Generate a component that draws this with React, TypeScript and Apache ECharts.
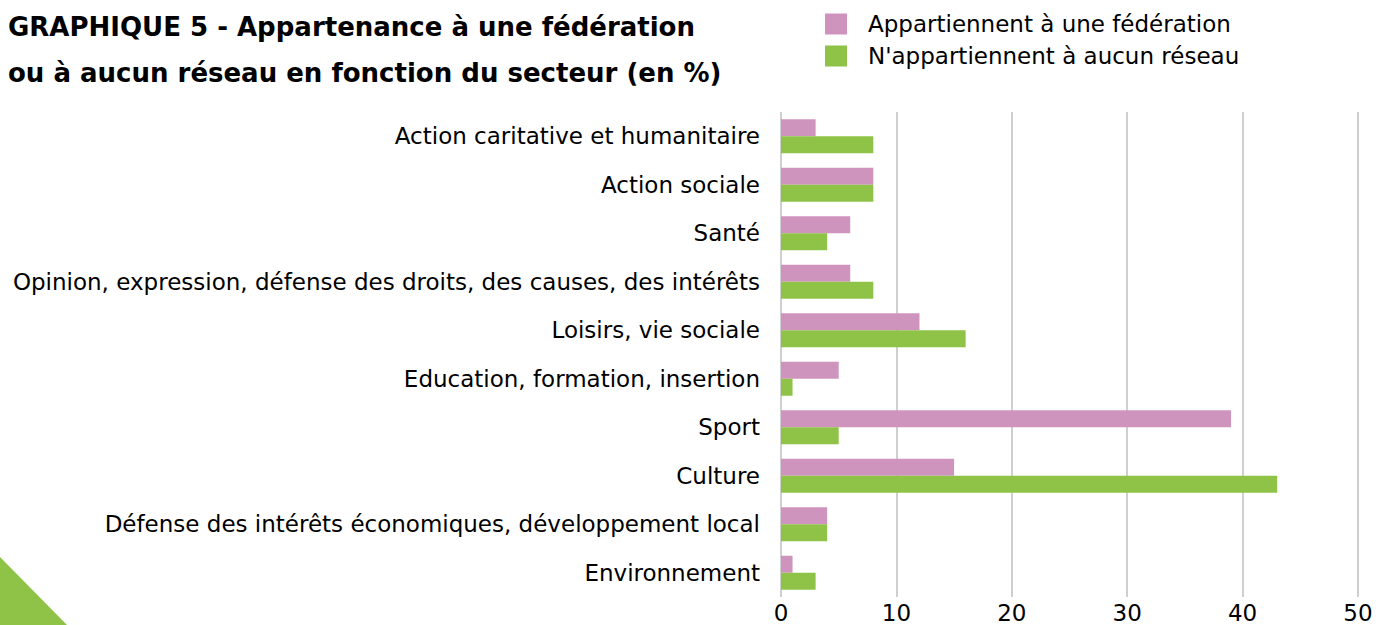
import React, { useEffect, useRef } from "react";
import * as echarts from "echarts";

const categories = [
  "Action caritative et humanitaire",
  "Action sociale",
  "Santé",
  "Opinion, expression, défense des droits, des causes, des intérêts",
  "Loisirs, vie sociale",
  "Education, formation, insertion",
  "Sport",
  "Culture",
  "Défense des intérêts économiques, développement local",
  "Environnement",
];
const federationValues = [3, 8, 6, 6, 12, 5, 39, 15, 4, 1];
const aucunReseauValues = [8, 8, 4, 8, 16, 1, 5, 43, 4, 3];
const seriesNames = ["Appartiennent à une fédération", "N'appartiennent à aucun réseau"];
const titleLines = [
  "GRAPHIQUE 5 - Appartenance à une fédération",
  "ou à aucun réseau en fonction du secteur (en %)",
];

const PINK = "#CF94BD";
const GREEN = "#8FC347";
const FONT = "'DejaVu Sans', sans-serif";

export default function App() {
  const ref = useRef<HTMLDivElement>(null);
  useEffect(() => {
    document.body.style.margin = "0";
    const chart = echarts.init(ref.current!, null, { renderer: "svg" });
    chart.setOption({
      animation: false,
      backgroundColor: "#ffffff",
      textStyle: { fontFamily: FONT },
      graphic: [
        {
          type: "text",
          left: 8,
          top: 4,
          style: {
            text: titleLines.join("\n"),
            font: `bold 26px ${FONT}`,
            lineHeight: 46,
            fill: "#000",
          },
        },
        {
          type: "polygon",
          shape: { points: [[0, 557], [67, 625], [0, 625]] },
          style: { fill: GREEN },
        },
      ],
      legend: {
        orient: "vertical",
        left: 820,
        top: 7,
        itemWidth: 22,
        itemHeight: 21,
        itemGap: 8,
        icon: "rect",
        textStyle: { fontSize: 23, lineHeight: 24, color: "#000", fontFamily: FONT, padding: [0, 0, 0, 16] },
        data: seriesNames,
      },
      grid: { left: 781, right: 1383 - 1358, top: 112, bottom: 625 - 597, containLabel: false },
      xAxis: {
        type: "value",
        min: 0,
        max: 50,
        interval: 10,
        axisLine: { show: false },
        axisTick: { show: false },
        axisLabel: { fontSize: 23, color: "#000", margin: 4, fontFamily: FONT },
        splitLine: { show: true, lineStyle: { color: "#BFBFBF", width: 1.5 } },
      },
      yAxis: {
        type: "category",
        inverse: true,
        data: categories,
        axisLine: { show: false },
        axisTick: { show: false },
        axisLabel: { fontSize: 23, color: "#000", margin: 21, fontFamily: FONT },
      },
      series: [
        {
          name: seriesNames[0],
          type: "bar",
          data: federationValues,
          barWidth: 17,
          barGap: "0%",
          itemStyle: { color: PINK },
        },
        {
          name: seriesNames[1],
          type: "bar",
          data: aucunReseauValues,
          barWidth: 17,
          barGap: "0%",
          itemStyle: { color: GREEN },
        },
      ],
    });
    return () => chart.dispose();
  }, []);
  return <div ref={ref} style={{ position: "absolute", left: 0, top: 0, width: 1383, height: 625 }} />;
}
